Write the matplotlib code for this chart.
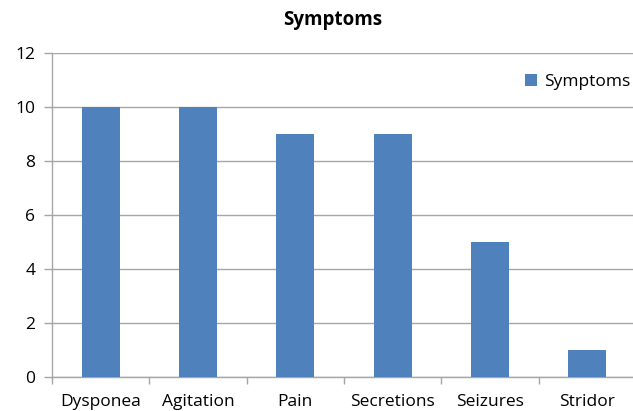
import matplotlib
matplotlib.use("Agg")
import matplotlib.pyplot as plt
import numpy as np
from matplotlib.patches import Patch

categories = ["Dysponea", "Agitation", "Pain", "Secretions", "Seizures", "Stridor"]
values = [10, 10, 9, 9, 5, 1]
yticks = [0, 2, 4, 6, 8, 10, 12]

plt.rcParams['font.family'] = ['Open Sans', 'DejaVu Sans']

W, H = 633, 411
fig = plt.figure(figsize=(W / 100, H / 100), dpi=100)
left, right = 52 / W, 636 / W
bottom, top = 1 - 377 / H, 1 - 53.3 / H
ax = fig.add_axes([left, bottom, right - left, top - bottom])

color = "#4F81BD"
x = np.arange(len(categories))
ax.bar(x, values, width=0.39, color=color, zorder=3)

ax.set_xlim(-0.5, len(categories) - 0.5)
ax.set_ylim(0, 12)
ax.set_yticks(yticks)
ax.set_yticklabels([str(v) for v in yticks], fontsize=12.5)
ax.yaxis.grid(True, color="#A6A6A6", linewidth=1, zorder=0)
ax.set_axisbelow(True)

ax.set_xticks(x)
ax.set_xticklabels(categories, fontsize=12.5)
ax.set_xticks(np.arange(len(categories) + 1) - 0.5, minor=True)
ax.tick_params(axis='x', which='major', length=0, pad=12)
ax.tick_params(axis='x', which='minor', length=5, color="#A6A6A6", width=1)
ax.tick_params(axis='y', length=6, color="#A6A6A6", width=1, pad=6)

for s in ["top", "right"]:
    ax.spines[s].set_visible(False)
for s in ["left", "bottom"]:
    ax.spines[s].set_color("#A6A6A6")
    ax.spines[s].set_linewidth(1)

fig.text(333 / W, 1 - 20 / H, "Symptoms", ha="center", va="center",
         fontsize=13.5, fontweight="bold")

fig.legend(handles=[Patch(facecolor=color, label="Symptoms")],
           loc="center left", bbox_to_anchor=(525 / W, 1 - 82 / H),
           frameon=False, fontsize=12.5, handlelength=0.7, handleheight=0.7,
           handletextpad=0.4, borderpad=0, borderaxespad=0)

fig.savefig("out.png", dpi=100)
